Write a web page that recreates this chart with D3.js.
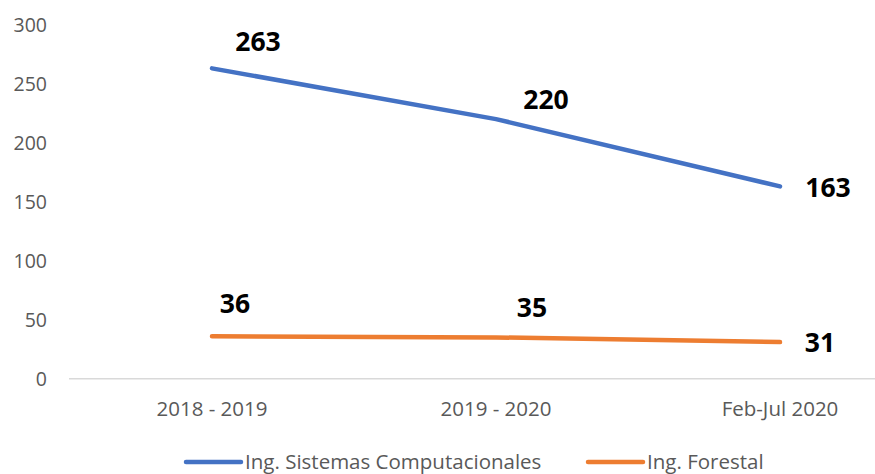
<!DOCTYPE html>
<html><head><meta charset="utf-8">
<script src="https://cdn.jsdelivr.net/npm/d3@7"></script>
<style>
body{margin:0;background:#fff;}
svg{display:block;font-family:"Open Sans",sans-serif;}
</style></head><body>
<svg id="c" width="875" height="474"></svg>
<script>
const categories = ["2018 - 2019", "2019 - 2020", "Feb-Jul 2020"];
const sistemas = [263, 220, 163];
const forestal = [36, 35, 31];
const seriesNames = ["Ing. Sistemas Computacionales", "Ing. Forestal"];
const yTicks = [0, 50, 100, 150, 200, 250, 300];
const colors = ["#4472C4", "#ED7D31"];

const svg = d3.select("#c");
const x = d3.scaleBand().domain(categories).range([70, 922]);
const y = d3.scaleLinear().domain([0, 300]).range([378.7, 24.7]);
const cx = d => x(d) + x.bandwidth() / 2;

// x axis line
svg.append("line").attr("x1", 69).attr("x2", 875).attr("y1", y(0)).attr("y2", y(0))
  .attr("stroke", "#d9d9d9").attr("stroke-width", 1.5);

// y tick labels
svg.append("g").selectAll("text").data(yTicks).join("text")
  .attr("x", 47).attr("y", d => y(d)).attr("dy", "0.36em")
  .attr("text-anchor", "end").attr("fill", "#595959").attr("font-size", 19.5)
  .text(d => d);

// x labels
svg.append("g").selectAll("text").data(categories).join("text")
  .attr("x", d => cx(d)).attr("y", 409).attr("dy", "0.36em")
  .attr("text-anchor", "middle").attr("fill", "#595959").attr("font-size", 20.5)
  .text(d => d);

const line = d3.line().x((d, i) => cx(categories[i])).y(d => y(d));
const allSeries = [sistemas, forestal];
allSeries.forEach((s, k) => {
  svg.append("path").datum(s).attr("d", line).attr("fill", "none")
    .attr("stroke", colors[k]).attr("stroke-width", 4.5)
    .attr("stroke-linecap", "round").attr("stroke-linejoin", "round");
});

// data labels (offsets relative to point)
const offs = [
  [[46, -27], [50, -20], [48, 1]],
  [[23, -33], [36, -30], [40, 0]]
];
allSeries.forEach((s, k) => {
  svg.append("g").selectAll("text").data(s).join("text")
    .attr("x", (d, i) => cx(categories[i]) + offs[k][i][0])
    .attr("y", (d, i) => y(d) + offs[k][i][1]).attr("dy", "0.36em")
    .attr("text-anchor", "middle").attr("font-weight", "bold").attr("font-size", 26.5)
    .attr("fill", "#000").text(d => d);
});

// legend
const legX = [186, 588];
seriesNames.forEach((n, k) => {
  const g = svg.append("g");
  g.append("line").attr("x1", legX[k]).attr("x2", legX[k] + 55).attr("y1", 462).attr("y2", 462)
    .attr("stroke", colors[k]).attr("stroke-width", 4.5).attr("stroke-linecap", "round");
  g.append("text").attr("x", legX[k] + 59).attr("y", 462).attr("dy", "0.36em")
    .attr("fill", "#595959").attr("font-size", 20.5).text(n);
});
</script></body></html>
